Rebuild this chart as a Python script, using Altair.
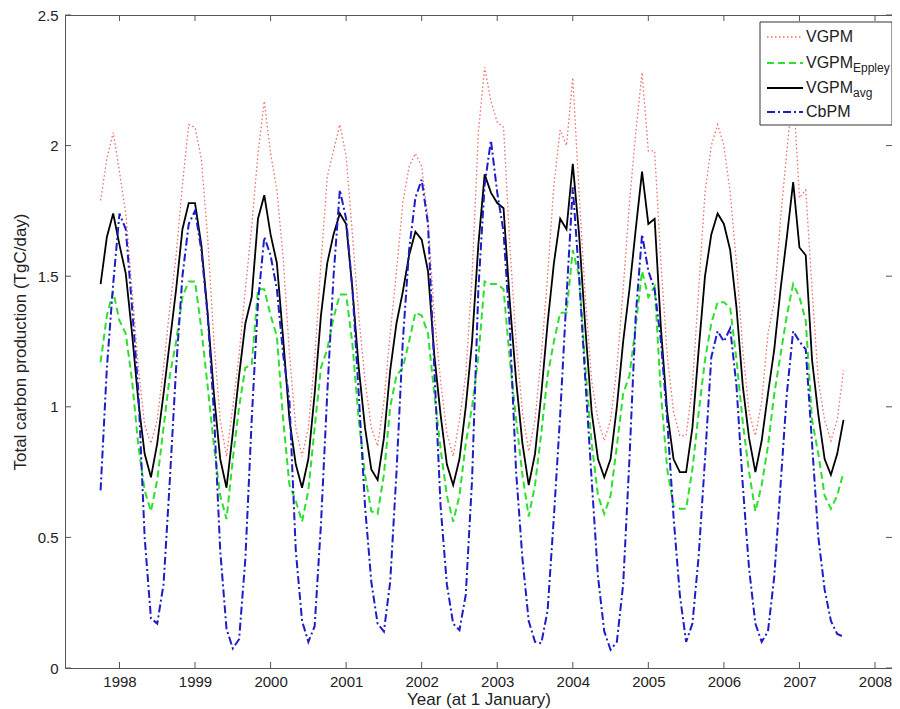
import altair as alt
import pandas as pd

# Monthly series, first point October 1997, last point August 2007
START = 1997.75
vgpm = [
    1.79, 1.95, 2.05,
    1.90, 1.74, 1.45, 1.15, 0.93, 0.86, 0.95, 1.15, 1.38, 1.58, 1.85, 2.08,
    2.07, 1.95, 1.65, 1.25, 0.95, 0.81, 1.00, 1.20, 1.45, 1.69, 1.97, 2.17,
    1.97, 1.83, 1.57, 1.20, 0.92, 0.81, 0.92, 1.18, 1.55, 1.88, 1.98, 2.08,
    1.96, 1.66, 1.35, 1.10, 0.92, 0.85, 1.02, 1.28, 1.52, 1.78, 1.92, 1.97,
    1.92, 1.72, 1.35, 1.10, 0.90, 0.81, 0.95, 1.12, 1.50, 2.05, 2.30, 2.17,
    2.09, 2.07, 1.62, 1.25, 0.98, 0.83, 0.95, 1.20, 1.50, 1.85, 2.06, 2.00,
    2.26, 1.82, 1.42, 1.10, 0.95, 0.87, 0.95, 1.15, 1.45, 1.78, 2.05, 2.28,
    1.98, 1.98, 1.55, 1.20, 0.98, 0.89, 0.89, 1.08, 1.45, 1.82, 2.00, 2.08,
    2.00, 1.82, 1.55, 1.22, 0.98, 0.89, 1.02, 1.28, 1.40, 1.72, 1.98, 2.22,
    1.80, 1.83, 1.45, 1.10, 0.95, 0.87, 0.95, 1.14,
]
eppley = [
    1.17, 1.35, 1.44,
    1.33, 1.28, 1.10, 0.85, 0.68, 0.60, 0.72, 0.92, 1.12, 1.25, 1.42, 1.48,
    1.48, 1.30, 1.08, 0.85, 0.66, 0.57, 0.80, 1.00, 1.15, 1.16, 1.45, 1.45,
    1.35, 1.27, 0.95, 0.70, 0.64, 0.56, 0.68, 0.92, 1.15, 1.22, 1.34, 1.43,
    1.43, 1.24, 0.95, 0.74, 0.60, 0.59, 0.74, 1.00, 1.12, 1.15, 1.25, 1.36,
    1.35, 1.28, 1.05, 0.84, 0.66, 0.56, 0.66, 0.86, 1.00, 1.19, 1.48, 1.47,
    1.47, 1.45, 1.18, 0.95, 0.74, 0.58, 0.70, 0.90, 1.12, 1.25, 1.36, 1.36,
    1.60, 1.50, 1.15, 0.86, 0.66, 0.59, 0.66, 0.85, 1.05, 1.12, 1.31, 1.52,
    1.42, 1.46, 1.05, 0.76, 0.62, 0.61, 0.61, 0.76, 0.98, 1.18, 1.32, 1.40,
    1.40, 1.38, 1.18, 0.94, 0.75, 0.60, 0.70, 0.85, 1.05, 1.20, 1.35, 1.47,
    1.42, 1.33, 0.95, 0.82, 0.66, 0.61, 0.66, 0.75,
]
vgpm_avg = [
    1.47, 1.65, 1.74,
    1.62, 1.51, 1.28, 1.02, 0.82, 0.73, 0.86, 1.05, 1.25, 1.45, 1.68, 1.78,
    1.78, 1.62, 1.36, 1.05, 0.80, 0.69, 0.90, 1.12, 1.32, 1.42, 1.72, 1.81,
    1.66, 1.55, 1.26, 0.95, 0.78, 0.69, 0.80, 1.05, 1.35, 1.55, 1.66, 1.74,
    1.70, 1.45, 1.15, 0.92, 0.76, 0.72, 0.88, 1.14, 1.32, 1.44, 1.58, 1.67,
    1.64, 1.52, 1.20, 0.97, 0.78, 0.70, 0.80, 1.00, 1.25, 1.62, 1.89, 1.82,
    1.78, 1.76, 1.40, 1.10, 0.86, 0.70, 0.82, 1.05, 1.32, 1.55, 1.72, 1.68,
    1.93, 1.66, 1.30, 0.98, 0.80, 0.73, 0.80, 1.00, 1.25, 1.45, 1.68, 1.90,
    1.70, 1.72, 1.30, 0.98, 0.80, 0.75, 0.75, 0.92, 1.22, 1.50, 1.66, 1.74,
    1.70, 1.60, 1.38, 1.08, 0.88, 0.75, 0.87, 1.05, 1.22, 1.45, 1.65, 1.86,
    1.61, 1.58, 1.18, 0.97, 0.80, 0.74, 0.82, 0.95,
]
cbpm = [
    0.68, 1.15, 1.47,
    1.74, 1.68, 1.38, 1.06, 0.50, 0.19, 0.17, 0.32, 0.72, 1.15, 1.50, 1.70,
    1.75, 1.60, 1.35, 0.98, 0.45, 0.15, 0.075, 0.11, 0.42, 0.95, 1.40, 1.65,
    1.58, 1.45, 1.20, 1.02, 0.45, 0.18, 0.10, 0.16, 0.55, 1.05, 1.50, 1.83,
    1.72, 1.45, 1.05, 0.62, 0.33, 0.17, 0.14, 0.33, 0.75, 1.25, 1.60, 1.80,
    1.87, 1.70, 1.15, 0.62, 0.32, 0.17, 0.145, 0.28, 0.72, 1.45, 1.85, 2.02,
    1.82, 1.67, 1.30, 0.75, 0.42, 0.18, 0.10, 0.095, 0.22, 0.58, 0.97, 1.42,
    1.84, 1.50, 1.10, 0.72, 0.35, 0.14, 0.07, 0.10, 0.32, 0.80, 1.35, 1.66,
    1.52, 1.45, 1.25, 0.95, 0.58, 0.28, 0.10, 0.17, 0.43, 0.80, 1.19, 1.29,
    1.25, 1.30, 1.08, 0.70, 0.38, 0.17, 0.10, 0.14, 0.35, 0.70, 1.05, 1.29,
    1.25, 1.22, 0.86, 0.50, 0.30, 0.18, 0.13, 0.12,
]
x_ticks = [1998, 1999, 2000, 2001, 2002, 2003, 2004, 2005, 2006, 2007, 2008]
y_ticks = [0, 0.5, 1, 1.5, 2, 2.5]
legend_main = ["VGPM", "VGPM", "VGPM", "CbPM"]
legend_sub = ["", "Eppley", "avg", ""]

W, H = 827, 653
FONT = "Liberation Sans"
TXT = "#222222"
FRAME = "#555555"

years = [START + i / 12 for i in range(len(vgpm))]

xs = alt.Scale(domain=[1997.279, 2008.225], nice=False, zero=False)
ys = alt.Scale(domain=[0, 2.5], nice=False, zero=False)

x_axis = alt.Axis(values=x_ticks, format="d", title="Year (at 1 January)", ticks=False,
                  tickSize=0, domain=False, grid=False, labelFlush=False,
                  labelFontSize=15, labelPadding=6, labelFont=FONT, labelColor=TXT,
                  titleFont=FONT, titleFontSize=17, titleFontWeight="normal",
                  titleColor=TXT, titlePadding=2)
y_axis = alt.Axis(values=y_ticks, format="~g", title="Total carbon production (TgC/day)",
                  ticks=False, tickSize=0, domain=False, grid=False, labelFlush=False,
                  labelFontSize=15, labelPadding=7, labelFont=FONT, labelColor=TXT,
                  titleFont=FONT, titleFontSize=17, titleFontWeight="normal",
                  titleColor=TXT, titlePadding=8)

X = lambda: alt.X("x:Q", scale=xs, axis=x_axis)
Y = lambda: alt.Y("y:Q", scale=ys, axis=y_axis)

styles = [
    ("VGPM", vgpm, "#f06a6a", [1.5, 2.5], 1.3),
    ("Eppley", eppley, "#2ee02e", [7, 4], 2.0),
    ("avg", vgpm_avg, "#000000", None, 1.8),
    ("CbPM", cbpm, "#1c1cc8", [8, 3, 2, 3], 2.0),
]

layers = []
for name, vals, color, dash, width in styles:
    df = pd.DataFrame({"x": years, "y": vals})
    kw = dict(color=color, strokeWidth=width, clip=True)
    if dash is not None:
        kw["strokeDash"] = dash
    layers.append(alt.Chart(df).mark_line(**kw).encode(x=X(), y=Y()))

xt = pd.DataFrame({"x": x_ticks})
yt = pd.DataFrame({"y": y_ticks})
for ya, yb in [(H, H - 6), (0, 6)]:
    layers.append(alt.Chart(xt).mark_rule(color=FRAME, strokeWidth=1).encode(
        x=X(), y=alt.value(ya), y2=alt.value(yb)))
for xa, xb in [(0, 6), (W, W - 6)]:
    layers.append(alt.Chart(yt).mark_rule(color=FRAME, strokeWidth=1).encode(
        y=Y(), x=alt.value(xa), x2=alt.value(xb)))

# legend box
one = pd.DataFrame({"a": [0]})
layers.append(alt.Chart(one).mark_rect(fill="white", stroke="#333333", strokeWidth=1).encode(
    x=alt.value(695), x2=alt.value(W), y=alt.value(7), y2=alt.value(110)))
rows = [22, 48, 73, 97]
for (name, vals, color, dash, width), ry, main, sub in zip(styles, rows, legend_main, legend_sub):
    kw = dict(color=color, strokeWidth=width)
    if dash is not None:
        kw["strokeDash"] = dash
    layers.append(alt.Chart(one).mark_rule(**kw).encode(
        x=alt.value(702), x2=alt.value(738), y=alt.value(ry)))
    layers.append(alt.Chart(one).mark_text(align="left", baseline="middle", fontSize=16,
                                           font=FONT, color=TXT).encode(
        x=alt.value(741), y=alt.value(ry), text=alt.value(main)))
    if sub:
        layers.append(alt.Chart(one).mark_text(align="left", baseline="middle", fontSize=12,
                                               font=FONT, color=TXT).encode(
            x=alt.value(788), y=alt.value(ry + 5), text=alt.value(sub)))

chart = alt.layer(*layers).properties(
    width=W, height=H,
    padding={"left": 57, "top": 7, "right": 0, "bottom": 41},
    autosize="none",
    background="white",
).configure_view(stroke=FRAME, strokeWidth=1)

chart.save("out.html", embed_options={"renderer": "svg", "actions": False})
